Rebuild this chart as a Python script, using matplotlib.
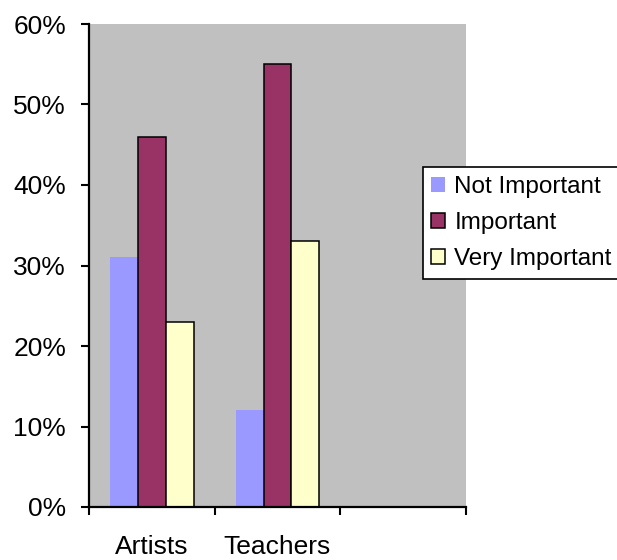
import matplotlib
matplotlib.use("Agg")
import matplotlib.pyplot as plt
from matplotlib.ticker import FixedLocator, PercentFormatter
import numpy as np

categories = ["Artists", "Teachers", ""]
series_names = ["Not Important", "Important", "Very Important"]
not_important = [31, 12, None]
important = [46, 55, None]
very_important = [23, 33, None]
y_ticks = [0, 10, 20, 30, 40, 50, 60]

plt.rcParams["font.family"] = ["Liberation Sans", "DejaVu Sans"]
FS_TICK = 19
FS_LEG = 17.5

W, H = 617, 560
fig = plt.figure(figsize=(W / 100, H / 100), dpi=100)
ax = fig.add_axes([89 / W, (H - 507) / H, (466 - 89) / W, (507 - 24) / H])
ax.set_facecolor("#C0C0C0")

bar_w = 1 / 4.5
styles = [
    dict(color="#9999FF", edgecolor="none", linewidth=0),
    dict(color="#993366", edgecolor="black", linewidth=1.1),
    dict(color="#FFFFCC", edgecolor="black", linewidth=1.1),
]
series = [not_important, important, very_important]
x = np.arange(len(categories))
for i, (name, vals, st) in enumerate(zip(series_names, series, styles)):
    xs = [xi + (i - 1) * bar_w for xi, v in zip(x, vals) if v is not None]
    hs = [v for v in vals if v is not None]
    ax.bar(xs, hs, width=bar_w, label=name, zorder=2, **st)

ax.set_xlim(-0.5, len(categories) - 0.5)
ax.set_ylim(0, 60)

for s in ("top", "right"):
    ax.spines[s].set_visible(False)
for s in ("left", "bottom"):
    ax.spines[s].set_linewidth(1.6)
    ax.spines[s].set_zorder(3)

ax.yaxis.set_major_locator(FixedLocator(y_ticks))
ax.yaxis.set_major_formatter(PercentFormatter(decimals=0))
ax.tick_params(axis="y", which="major", direction="out", length=5.5, width=1.5,
               pad=11, labelsize=FS_TICK)

# Category boundaries carry the tick marks, labels sit at category centres
ax.xaxis.set_major_locator(FixedLocator(np.arange(len(categories) + 1) - 0.5))
ax.xaxis.set_major_formatter(plt.NullFormatter())
ax.xaxis.set_minor_locator(FixedLocator(x))
ax.set_xticklabels(categories, minor=True)
ax.tick_params(axis="x", which="major", direction="out", length=6, width=1.5)
ax.tick_params(axis="x", which="minor", length=0, pad=20, labelsize=FS_TICK)

leg = fig.legend(loc="upper left", bbox_to_anchor=(422.7 / W, 1 - 167.3 / H),
                 bbox_transform=fig.transFigure, fontsize=FS_LEG, frameon=True,
                 fancybox=False, shadow=False, framealpha=1, edgecolor="black",
                 borderpad=0.35, borderaxespad=0, labelspacing=0.58,
                 handlelength=0.55, handleheight=0.55, handletextpad=0.4)
leg.get_frame().set_linewidth(1.2)

fig.savefig("out.png", dpi=100)
